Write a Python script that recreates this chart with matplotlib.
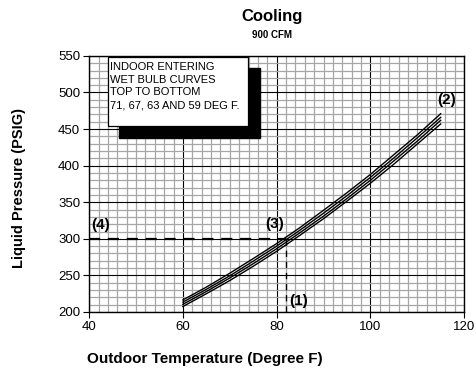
import matplotlib
matplotlib.use("Agg")
import matplotlib.pyplot as plt
from matplotlib.patches import Rectangle
from matplotlib.ticker import MultipleLocator

plt.rcParams['font.family'] = ['Liberation Sans', 'DejaVu Sans']

# Outdoor temperature samples (deg F)
outdoor_temp = [60, 65, 70, 75, 80, 85, 90, 95, 100, 105, 110, 115]

# Liquid pressure (PSIG) for each indoor entering wet bulb temperature
wb_71 = [216.5, 234, 253, 273, 293.5, 315.5, 339, 363, 388, 415, 442, 471]
wb_67 = [213.5, 231, 249.5, 269.5, 290, 312, 335, 359, 384, 410.5, 438, 466]
wb_63 = [210.5, 228, 246.5, 266, 286.5, 308.5, 331, 355, 380, 406.5, 433.5, 462]
wb_59 = [207.5, 225, 243, 262.5, 283, 305, 327.5, 351.5, 376, 402, 429.5, 457]

# Example reading
example_temp = 82
example_pressure = 300

x_ticks = [40, 60, 80, 100, 120]
y_ticks = [200, 250, 300, 350, 400, 450, 500, 550]

fig = plt.figure(figsize=(4.77, 3.69), dpi=100)
ax = fig.add_axes([0.187, 0.1545, 0.786, 0.694])

ax.set_xlim(40, 120)
ax.set_ylim(200, 550)
ax.set_xticks(x_ticks)
ax.set_yticks(y_ticks)
ax.xaxis.set_minor_locator(MultipleLocator(2))
ax.yaxis.set_minor_locator(MultipleLocator(10))
ax.grid(which='minor', color='#a6a6a6', linewidth=0.9)
ax.grid(which='major', color='black', linewidth=0.8)
ax.set_axisbelow(True)
ax.tick_params(which='minor', length=0)
ax.tick_params(which='major', length=4, width=0.8, labelsize=9.5, pad=2.5, direction='out')
for s in ax.spines.values():
    s.set_linewidth(1.0)
    s.set_color('black')

for series in (wb_71, wb_67, wb_63, wb_59):
    ax.plot(outdoor_temp, series, color='black', linewidth=1.0, zorder=5)

# Example reading path
ax.plot([40, example_temp], [example_pressure, example_pressure], color='black',
        linewidth=1.6, dashes=(5, 3.5), zorder=4)
ax.plot([example_temp, example_temp], [200, example_pressure], color='black',
        linewidth=1.0, dashes=(4.5, 3.5), zorder=4)

lab = dict(fontsize=11, fontweight='bold', ha='left', va='center', zorder=6)
ax.text(40.4, 319, '(4)', **lab)
ax.text(77.5, 320, '(3)', **lab)
ax.text(82.6, 215.5, '(1)', **lab)
ax.text(114.2, 490, '(2)', **lab)

# Note box with drop shadow
ax.add_patch(Rectangle((46.3, 437.9), 30.1, 95.7, facecolor='black',
                       edgecolor='black', zorder=6))
ax.add_patch(Rectangle((44.0, 454.3), 29.8, 94.3, facecolor='white',
                       edgecolor='black', linewidth=0.9, zorder=7))
ax.text(44.5, 542, 'INDOOR ENTERING\nWET BULB CURVES\nTOP TO BOTTOM\n71, 67, 63 AND 59 DEG F.',
        fontsize=8, ha='left', va='top', linespacing=1.35, zorder=8)

fig.text(272 / 477, 1 - 16 / 369, 'Cooling', fontsize=12, fontweight='bold',
         ha='center', va='center')
fig.text(272 / 477, 1 - 34.5 / 369, '900 CFM', fontsize=7, fontweight='bold',
         ha='center', va='center')
fig.text(87 / 477, 1 - 359 / 369, 'Outdoor Temperature (Degree F)', fontsize=11,
         fontweight='bold', ha='left', va='center')
fig.text(19 / 477, 1 - 188 / 369, 'Liquid Pressure (PSIG)', fontsize=10.5,
         fontweight='bold', ha='center', va='center', rotation=90)

fig.savefig('out.png', dpi=100)
